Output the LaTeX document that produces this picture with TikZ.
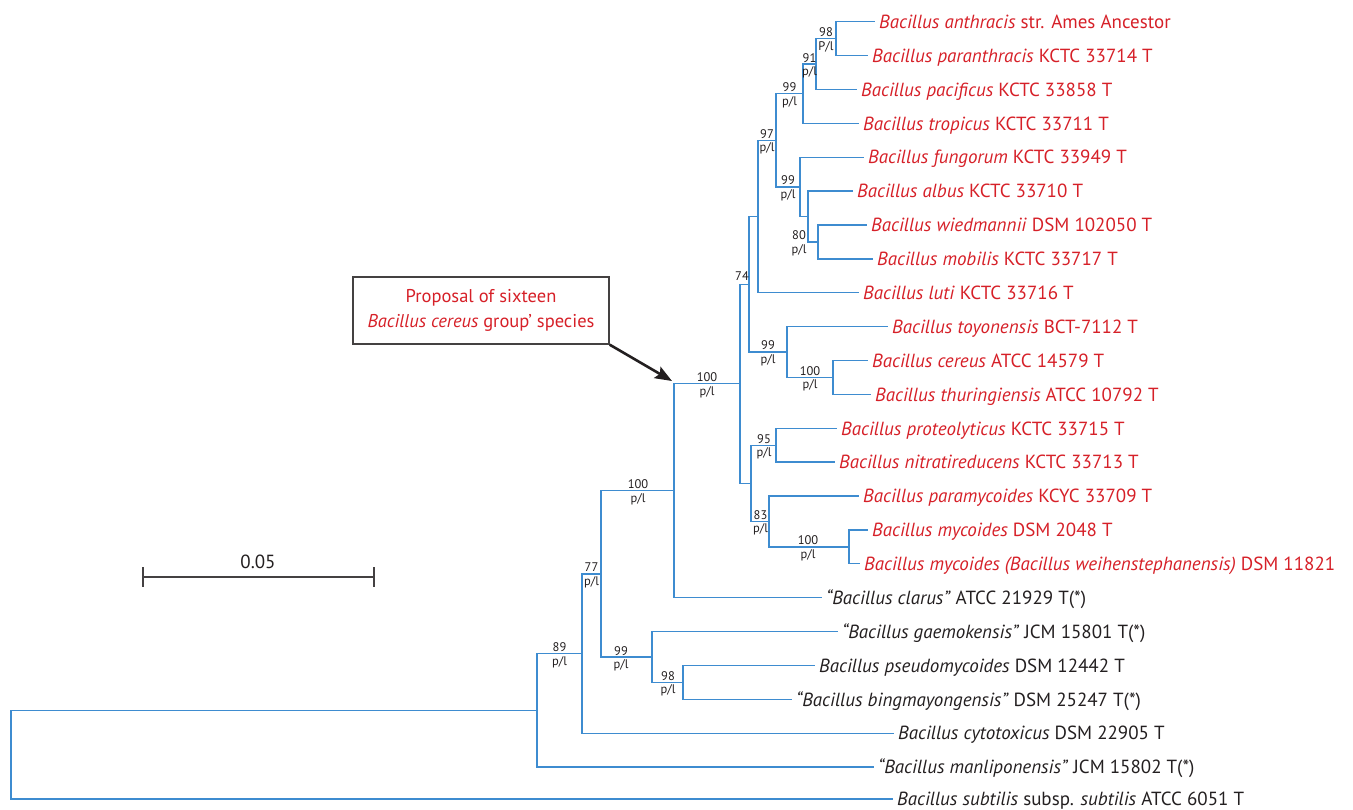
\documentclass[tikz,border=0pt]{standalone}
\usepackage{fontspec}
\setmainfont{PT Sans}
\usetikzlibrary{arrows.meta}
\definecolor{tred}{RGB}{214,32,40}
\definecolor{tblue}{RGB}{62,140,208}
\definecolor{tblack}{RGB}{35,31,32}
\newcommand{\bootlab}[5]{%
  \node[bootst] (#1t) at (#2,#3-2) {#4};
  \node[bootst] (#1b) at (#2,#3+11.5) {#5};}
\begin{document}
\begin{tikzpicture}[x=1pt,y=-1pt,
  branch/.style={draw=tblue, line width=1.3pt},
  leaf/.style={anchor=west, inner xsep=4pt, inner ysep=0pt, text height=13.5pt, text depth=0pt,
               font=\fontsize{19}{21}\selectfont},
  redleaf/.style={leaf, text=tred},
  blackleaf/.style={leaf, text=tblack},
  bootst/.style={anchor=base, inner sep=0pt, text=tblack, font=\fontsize{12.5}{12.5}\selectfont}]
\useasboundingbox (0,0) rectangle (1353,810);

% leaves
\node[redleaf] (l1) at (875,21.7) {\textit{Bacillus anthracis} str. Ames Ancestor};
\node[redleaf] (l2) at (868,55.6) {\textit{Bacillus paranthracis} KCTC 33714 T};
\node[redleaf] (l3) at (857,89.5) {\textit{Bacillus pacificus} KCTC 33858 T};
\node[redleaf] (l4) at (859,123.3) {\textit{Bacillus tropicus} KCTC 33711 T};
\node[redleaf] (l5) at (864,157.2) {\textit{Bacillus fungorum} KCTC 33949 T};
\node[redleaf] (l6) at (853,191.1) {\textit{Bacillus albus} KCTC 33710 T};
\node[redleaf] (l7) at (867,225.0) {\textit{Bacillus wiedmannii} DSM 102050 T};
\node[redleaf] (l8) at (873,258.9) {\textit{Bacillus mobilis} KCTC 33717 T};
\node[redleaf] (l9) at (859,292.7) {\textit{Bacillus luti} KCTC 33716 T};
\node[redleaf] (l10) at (888,326.6) {\textit{Bacillus toyonensis} BCT-7112 T};
\node[redleaf] (l11) at (868,360.5) {\textit{Bacillus cereus} ATCC 14579 T};
\node[redleaf] (l12) at (871,394.4) {\textit{Bacillus thuringiensis} ATCC 10792 T};
\node[redleaf] (l13) at (837,428.3) {\textit{Bacillus proteolyticus} KCTC 33715 T};
\node[redleaf] (l14) at (835,462.1) {\textit{Bacillus nitratireducens} KCTC 33713 T};
\node[redleaf] (l15) at (859,496.0) {\textit{Bacillus paramycoides} KCYC 33709 T};
\node[redleaf] (l16) at (868,529.9) {\textit{Bacillus mycoides} DSM 2048 T};
\node[redleaf] (l17) at (860,563.8) {\textit{Bacillus mycoides (Bacillus weihenstephanensis)} DSM 11821};
\node[blackleaf] (l18) at (822,597.7) {\textit{“Bacillus clarus”} ATCC 21929 T(*)};
\node[blackleaf] (l19) at (838,631.5) {\textit{“Bacillus gaemokensis”} JCM 15801 T(*)};
\node[blackleaf] (l20) at (815,665.4) {\textit{Bacillus pseudomycoides} DSM 12442 T};
\node[blackleaf] (l21) at (792,699.3) {\textit{“Bacillus bingmayongensis”} DSM 25247 T(*)};
\node[blackleaf] (l22) at (894,733.2) {\textit{Bacillus cytotoxicus} DSM 22905 T};
\node[blackleaf] (l23) at (874,767.1) {\textit{“Bacillus manliponensis”} JCM 15802 T(*)};
\node[blackleaf] (l24) at (893,799.0) {\textit{Bacillus subtilis} subsp. \textit{subtilis} ATCC 6051 T};

% internal nodes
\coordinate (n98) at (836,38.65);
\coordinate (n91) at (816,64.1);
\coordinate (n99a) at (803,93.7);
\coordinate (n80) at (818,242);
\coordinate (nalb) at (808,216.5);
\coordinate (n99b) at (800,186.9);
\coordinate (n97) at (776,140.3);
\coordinate (nluti) at (758,216.5);
\coordinate (n100c) at (833,377.5);
\coordinate (n99t) at (787,352);
\coordinate (n74) at (749,284.3);
\coordinate (n95) at (776,445.2);
\coordinate (n100m) at (849,546.9);
\coordinate (n83) at (769,521.4);
\coordinate (nlow) at (751,483.3);
\coordinate (n100g) at (740,383.8);
\coordinate (n100h) at (674,490.8);
\coordinate (n98p) at (683,682.4);
\coordinate (n99g) at (652,657);
\coordinate (n77) at (601,573.9);
\coordinate (n89) at (582,653.6);
\coordinate (nman) at (537,710.4);
\coordinate (root) at (11,754.7);

% branches
\draw[branch] (n98) |- (l1.west);  \draw[branch] (n98) |- (l2.west);
\draw[branch] (n91) |- (n98);      \draw[branch] (n91) |- (l3.west);
\draw[branch] (n99a) |- (n91);     \draw[branch] (n99a) |- (l4.west);
\draw[branch] (n80) |- (l7.west);  \draw[branch] (n80) |- (l8.west);
\draw[branch] (nalb) |- (l6.west); \draw[branch] (nalb) |- (n80);
\draw[branch] (n99b) |- (l5.west); \draw[branch] (n99b) |- (nalb);
\draw[branch] (n97) |- (n99a);     \draw[branch] (n97) |- (n99b);
\draw[branch] (nluti) |- (n97);    \draw[branch] (nluti) |- (l9.west);
\draw[branch] (n100c) |- (l11.west); \draw[branch] (n100c) |- (l12.west);
\draw[branch] (n99t) |- (l10.west);  \draw[branch] (n99t) |- (n100c);
\draw[branch] (n74) |- (nluti);      \draw[branch] (n74) |- (n99t);
\draw[branch] (n95) |- (l13.west);   \draw[branch] (n95) |- (l14.west);
\draw[branch] (n100m) |- (l16.west); \draw[branch] (n100m) |- (l17.west);
\draw[branch] (n83) |- (l15.west);   \draw[branch] (n83) |- (n100m);
\draw[branch] (nlow) |- (n95);       \draw[branch] (nlow) |- (n83);
\draw[branch] (n100g) |- (n74);      \draw[branch] (n100g) |- (nlow);
\draw[branch] (n100h) |- (n100g);    \draw[branch] (n100h) |- (l18.west);
\draw[branch] (n98p) |- (l20.west);  \draw[branch] (n98p) |- (l21.west);
\draw[branch] (n99g) |- (l19.west);  \draw[branch] (n99g) |- (n98p);
\draw[branch] (n77) |- (n100h);      \draw[branch] (n77) |- (n99g);
\draw[branch] (n89) |- (n77);        \draw[branch] (n89) |- (l22.west);
\draw[branch] (nman) |- (n89);       \draw[branch] (nman) |- (l23.west);
\draw[branch] (root) |- (nman);      \draw[branch] (root) |- (l24.west);

% support labels
\bootlab{b98}{826}{38.65}{98}{P/l}
\bootlab{b91}{809.5}{64.1}{91}{p/l}
\bootlab{b99a}{789.5}{93.7}{99}{p/l}
\bootlab{b97}{767}{140.3}{97}{p/l}
\bootlab{b99b}{788}{186.9}{99}{p/l}
\bootlab{b80}{799}{242}{80}{p/l}
\node[bootst] (b74t) at (742,281) {74};
\bootlab{b99t}{768}{352}{99}{p/l}
\bootlab{b100c}{810}{377.5}{100}{p/l}
\bootlab{b100g}{707}{383.8}{100}{p/l}
\bootlab{b95}{764}{445.2}{95}{p/l}
\bootlab{b83}{760.5}{521.4}{83}{p/l}
\bootlab{b100m}{808}{546.9}{100}{p/l}
\bootlab{b100h}{638}{490.8}{100}{p/l}
\bootlab{b77}{591.5}{573.9}{77}{p/l}
\bootlab{b89}{559.5}{653.6}{89}{p/l}
\bootlab{b99g}{621}{657}{99}{p/l}
\bootlab{b98p}{668}{682.4}{98}{p/l}

% annotation box and arrow
\node[draw=tblack!85, line width=1.3pt, minimum width=256pt, minimum height=67pt,
      align=center, text=tred, font=\fontsize{18.5}{25}\selectfont] (box) at (481,310.5)
  {Proposal of sixteen\\\textit{Bacillus cereus} group’ species};
\coordinate (arrtip) at (672,381);
\draw[tblack, line width=2.6pt, -{Stealth[length=17pt,width=13pt,inset=3pt]}] (box.south east) -- (arrtip);

% scale bar
\coordinate (sbl) at (143,577);
\coordinate (sbr) at (374,577);
\draw[tblack!85, line width=1.5pt] (sbl) -- (sbr);
\draw[tblack!85, line width=1.5pt] ([yshift=10pt]sbl) -- ([yshift=-10pt]sbl);
\draw[tblack!85, line width=1.5pt] ([yshift=10pt]sbr) -- ([yshift=-10pt]sbr);
\node[text=tblack, font=\fontsize{19}{20}\selectfont, inner sep=0pt] (sblab) at (258,562) {0.05};
\end{tikzpicture}
\end{document}
